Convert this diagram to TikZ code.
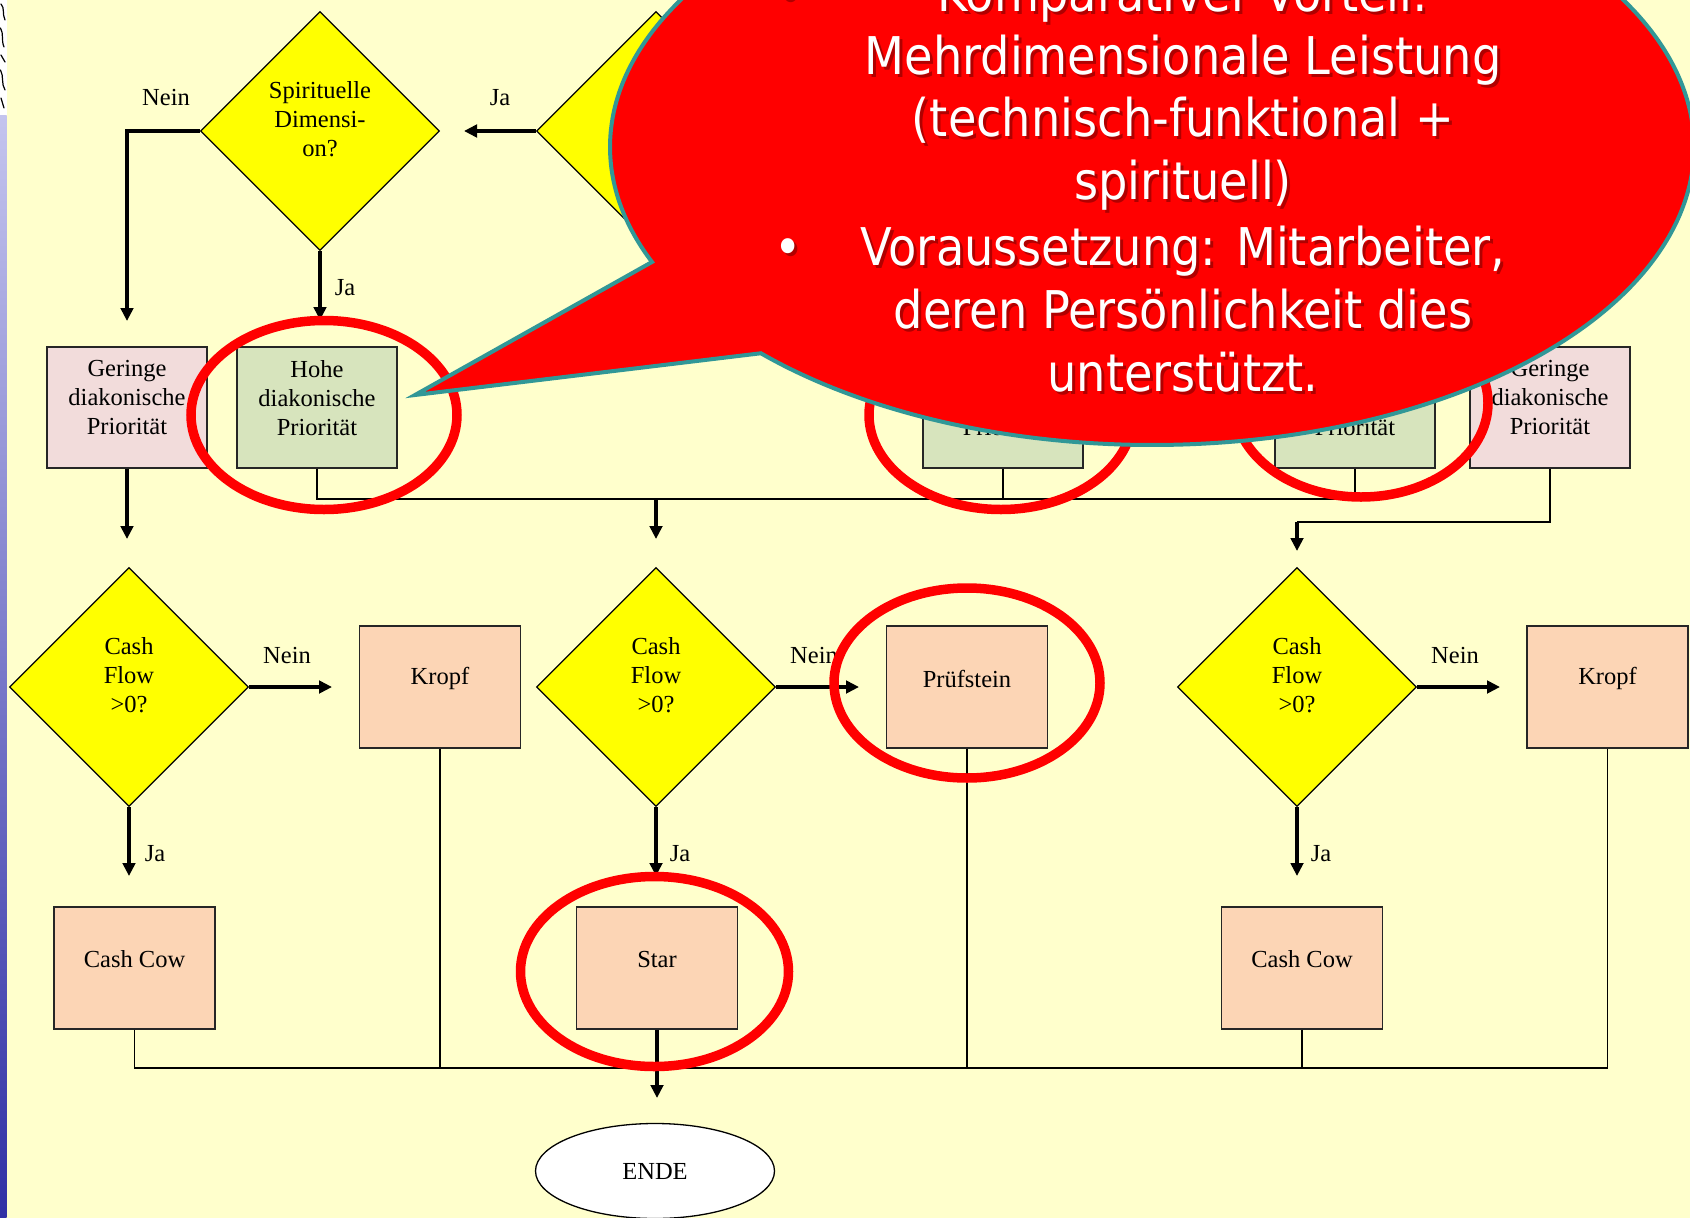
\documentclass[tikz,border=0pt]{standalone}
\usepackage{fontspec}
\setmainfont{Liberation Serif}
\newfontfamily\bubblefont[FakeStretch=0.89]{DejaVu Sans}
\usetikzlibrary{shapes.geometric,arrows.meta}

\definecolor{bgyellow}{RGB}{255,255,204}
\definecolor{decyellow}{RGB}{255,255,0}
\definecolor{lowpink}{RGB}{242,220,219}
\definecolor{highgreen}{RGB}{215,228,189}
\definecolor{peach}{RGB}{252,213,181}
\definecolor{ringred}{RGB}{255,0,0}
\definecolor{bubblered}{RGB}{255,0,0}
\definecolor{bubbleedge}{RGB}{49,151,151}
\definecolor{shadowred}{RGB}{150,0,0}
\definecolor{striptop}{RGB}{196,196,238}
\definecolor{stripbottom}{RGB}{48,48,165}

% one line of the callout text: shadow first, then the white text
\newcommand{\bubbleline}[3]{%
  \node[bubbleshadow] (#1s) at (1186,#2+3) {#3};
  \node[bubbletext] (#1) at (1183,#2) {#3};}

\begin{document}
\begin{tikzpicture}[x=1pt,y=-1pt,
  decnode/.style={diamond, aspect=1, draw=black, line width=1.3pt,
    fill=decyellow, minimum width=239pt, minimum height=239pt, inner sep=0pt},
  boxnode/.style={rectangle, draw=black!85, line width=1.3pt,
    minimum width=160pt, minimum height=121pt, inner sep=0pt},
  lowbox/.style={boxnode, fill=lowpink},
  highbox/.style={boxnode, fill=highgreen},
  resultbox/.style={boxnode, fill=peach, minimum width=161pt, minimum height=122pt},
  endnode/.style={ellipse, draw=black, line width=1.3pt, fill=white,
    minimum width=239pt, minimum height=95pt, inner sep=0pt},
  chartfont/.style={font=\fontsize{24.5pt}{29pt}\selectfont},
  intext/.style={chartfont, align=center, inner sep=0pt},
  branchlbl/.style={chartfont, inner sep=0pt},
  flowarrow/.style={line width=3.2pt, -{Triangle[length=13pt,width=12.5pt]}},
  joinline/.style={line width=1.4pt},
  focusring/.style={draw=ringred, line width=9.5pt},
  bubbletext/.style={font=\bubblefont\fontsize{52pt}{62pt}\selectfont,
    text=white, anchor=base, inner sep=0pt},
  bubbleshadow/.style={bubbletext, text=shadowred, opacity=0.75},
]
\useasboundingbox (0,0) rectangle (1690,1218);
\fill[bgyellow] (0,0) rectangle (1690,1218);

\begin{scope}
\clip (0,0) rectangle (1690,1218);

% left edge strip with the cropped logo on top
\shade[top color=striptop, bottom color=stripbottom] (0,115) rectangle (6.5,1218);
\fill[white] (0,0) rectangle (6.5,115);
\draw[black, line width=1.2pt, line cap=round]
  (1,4) .. controls (5,8) and (2,14) .. (5,20)
  (0.5,28) .. controls (4,34) and (1,40) .. (4,47)
  (1,55) -- (5,62) (0.5,70) .. controls (4,76) and (1,84) .. (5,90)
  (1,98) -- (4,108);

% ---------- decisions and boxes ----------
\node[decnode] (d1) at (320,131) {};
\node[intext] (d1t) at ([yshift=12pt]d1.center) {Spirituelle\\Dimensi-\\on?};
\node[decnode] (d0) at (656,131) {};

\node[lowbox] (g1) at (127,407.5) {};
\node[intext] (g1t) at ([yshift=9.5pt]g1.center) {Geringe\\diakonische\\Priorität};
\node[highbox] (h1) at (317,407.5) {};
\node[intext] (h1t) at ([yshift=9.5pt]h1.center) {Hohe\\diakonische\\Priorität};
\node[highbox] (h2) at (1003,407.5) {};
\node[intext] (h2t) at ([yshift=9.5pt]h2.center) {Hohe\\diakonische\\Priorität};
\node[highbox] (h3) at (1355,407.5) {};
\node[intext] (h3t) at ([yshift=9.5pt]h3.center) {Hohe\\diakonische\\Priorität};
\node[lowbox] (g2) at (1550,407.5) {};
\node[intext] (g2t) at ([yshift=9.5pt]g2.center) {Geringe\\diakonische\\Priorität};

\node[decnode] (cf1) at (129,687) {};
\node[intext] (cf1t) at ([yshift=11.5pt]cf1.center) {Cash\\Flow\\>0?};
\node[decnode] (cf2) at (656,687) {};
\node[intext] (cf2t) at ([yshift=11.5pt]cf2.center) {Cash\\Flow\\>0?};
\node[decnode] (cf3) at (1297,687) {};
\node[intext] (cf3t) at ([yshift=11.5pt]cf3.center) {Cash\\Flow\\>0?};

\node[resultbox] (k1) at (440,687) {};
\node[intext] (k1t) at ([yshift=8.5pt]k1.center) {Kropf};
\node[resultbox] (p1) at (967,687) {};
\node[intext] (p1t) at ([yshift=8.5pt]p1.center) {Prüfstein};
\node[resultbox] (k2) at (1607.5,687) {};
\node[intext] (k2t) at ([yshift=8.5pt]k2.center) {Kropf};

\node[resultbox] (cc1) at (134.5,968) {};
\node[intext] (cc1t) at ([yshift=9pt]cc1.center) {Cash Cow};
\node[resultbox] (st) at (657,968) {};
\node[intext] (stt) at ([yshift=9pt]st.center) {Star};
\node[resultbox] (cc2) at (1302,968) {};
\node[intext] (cc2t) at ([yshift=9pt]cc2.center) {Cash Cow};

\node[endnode] (ende) at (655,1171) {};
\node[intext] (endet) at (ende.center) {ENDE};

% ---------- connectors ----------
\coordinate (d1no) at (127,321);
\coordinate (d1yes) at (0,320);
\coordinate (d0yes) at (464,131);
\draw[flowarrow] (d1.west) -- (d1.west -| d1no) -- (d1no);
\draw[flowarrow] (d1.south) -- (d1.south |- d1yes);
\draw[flowarrow] (d0.west) -- (d0yes);

\coordinate (rowtwo) at (0,539);
\coordinate (busA) at (0,499);
\coordinate (mergetop) at (656,499);
\coordinate (busB) at (0,522);
\coordinate (cf3in) at (1297,551);
\draw[flowarrow] (g1.south) -- (g1.south |- rowtwo);
\draw[joinline] (h1.south) -- (h1.south |- busA) -- (h3.south |- busA) -- (h3.south);
\draw[joinline] (h2.south) -- (h2.south |- busA);
\draw[flowarrow] (mergetop) -- (mergetop |- rowtwo);
\draw[joinline] (g2.south) -- (g2.south |- busB) -- (cf3in |- busB);
\draw[flowarrow] (cf3in |- busB) -- (cf3in);

\coordinate (cf1no) at (332,687);
\coordinate (cf2no) at (859,687);
\coordinate (cf3no) at (1500,687);
\draw[flowarrow] (cf1.east) -- (cf1no);
\draw[flowarrow] (cf2.east) -- (cf2no);
\draw[flowarrow] (cf3.east) -- (cf3no);

\coordinate (jatip) at (0,876);
\draw[flowarrow] (cf1.south) -- (cf1.south |- jatip);
\draw[flowarrow] (cf2.south) -- (cf2.south |- jatip);
\draw[flowarrow] (cf3.south) -- (cf3.south |- jatip);

\coordinate (busC) at (0,1068);
\coordinate (endtip) at (0,1098);
\draw[joinline] (cc1.south) -- (cc1.south |- busC) -- (k2.south |- busC) -- (k2.south);
\draw[joinline] (k1.south) -- (k1.south |- busC);
\draw[joinline] (p1.south) -- (p1.south |- busC);
\draw[joinline] (cc2.south) -- (cc2.south |- busC);
\draw[flowarrow] (st.south) -- (st.south |- endtip);

% ---------- branch labels ----------
\node[branchlbl] (l1) at (166,98) {Nein};
\node[branchlbl] (l2) at (500,98) {Ja};
\node[branchlbl] (l3) at (345,288) {Ja};
\node[branchlbl] (l4) at (287,656) {Nein};
\node[branchlbl] (l5) at (814,656) {Nein};
\node[branchlbl] (l6) at (1455,656) {Nein};
\node[branchlbl] (l7) at (155,854) {Ja};
\node[branchlbl] (l8) at (680,854) {Ja};
\node[branchlbl] (l9) at (1321,854) {Ja};

% ---------- highlight rings ----------
\draw[focusring] (324,415) ellipse [x radius=133pt, y radius=94.5pt];
\draw[focusring] (1001,415) ellipse [x radius=132pt, y radius=94.5pt];
\draw[focusring] (1361,403) ellipse [x radius=127pt, y radius=94pt];
\draw[focusring] (967,683) ellipse [x radius=133pt, y radius=95pt];
\draw[focusring] (654.5,971.5) ellipse [x radius=134pt, y radius=95pt];

% ---------- callout ----------
\coordinate (tailtip) at (415,395);
\filldraw[fill=bubblered, draw=bubbleedge, line width=4pt, line join=miter, miter limit=25]
  (tailtip) -- plot[domain=157.3:496.2, samples=400, variable=\t]
  ({1152+542*cos(\t)},{147+298*sin(\t)}) -- cycle;

\bubbleline{b1}{11.7}{Komparativer Vorteil:}
\bubbleline{b2}{74}{Mehrdimensionale Leistung}
\bubbleline{b3}{136}{(technisch-funktional +}
\bubbleline{b4}{199}{spirituell)}
\bubbleline{b5}{265}{Voraussetzung: Mitarbeiter,}
\bubbleline{b6}{328}{deren Persönlichkeit dies}
\bubbleline{b7}{391}{unterstützt.}
\node[bubbleshadow] (bullet1s) at (791,11.7+3) {•};
\node[bubbletext] (bullet1) at (788,11.7) {•};
\node[bubbleshadow] (bullet2s) at (791,268) {•};
\node[bubbletext] (bullet2) at (788,265) {•};
\end{scope}
\end{tikzpicture}
\end{document}
